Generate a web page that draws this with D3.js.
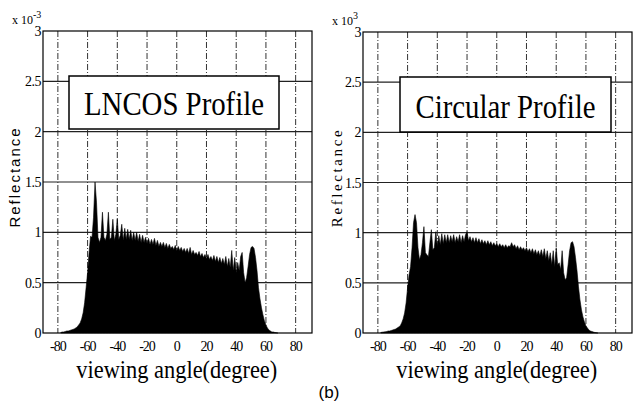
<!DOCTYPE html>
<html>
<head>
<meta charset="utf-8">
<script src="https://cdn.jsdelivr.net/npm/d3@7"></script>
</head>
<body style="margin:0">
<script>
// sampled viewing angles (degree), one value per degree
const angles = d3.range(-78, 69);

// reflectance, x 10^-3
const lncos = [
  0.005, 0.01, 0.01, 0.015, 0.02, 0.02, 0.025, 0.03, 0.035, 0.04,
  0.05, 0.06, 0.08, 0.1, 0.14, 0.2, 0.3, 0.45, 0.6, 0.8,
  0.96, 0.95, 1.15, 1.5, 1.3, 0.95, 0.9, 0.95, 1.2, 0.95,
  0.92, 0.98, 1.2, 0.93, 0.95, 1.13, 0.92, 0.98, 1.13, 0.93,
  0.97, 1.08, 0.92, 1.04, 0.93, 1.03, 0.93, 1.02, 0.92, 1.0,
  0.92, 1.0, 0.91, 0.98, 0.9, 0.97, 0.9, 0.95, 0.89, 0.94,
  0.88, 0.93, 0.88, 0.94, 0.87, 0.92, 0.86, 0.9, 0.86, 0.9,
  0.85, 0.89, 0.84, 0.88, 0.84, 0.86, 0.83, 0.87, 0.82, 0.86,
  0.82, 0.85, 0.81, 0.84, 0.8, 0.84, 0.79, 0.85, 0.78, 0.82,
  0.78, 0.8, 0.77, 0.81, 0.76, 0.79, 0.75, 0.78, 0.74, 0.78,
  0.73, 0.76, 0.72, 0.77, 0.71, 0.76, 0.7, 0.75, 0.69, 0.74,
  0.68, 0.76, 0.66, 0.74, 0.65, 0.82, 0.62, 0.75, 0.6, 0.7,
  0.62, 0.76, 0.8, 0.6, 0.5, 0.55, 0.66, 0.78, 0.85, 0.86,
  0.84, 0.75, 0.62, 0.45, 0.34, 0.25, 0.18, 0.12, 0.08, 0.05,
  0.03, 0.02, 0.01, 0.01, 0.005, 0.003, 0
];

const circular = [
  0.005, 0.008, 0.01, 0.012, 0.015, 0.02, 0.02, 0.025, 0.03, 0.035,
  0.04, 0.05, 0.06, 0.07, 0.1, 0.14, 0.2, 0.3, 0.45, 0.58,
  0.66, 0.85, 1.1, 1.18, 1.1, 0.85, 0.73, 0.78, 0.9, 1.06,
  0.8, 0.78, 0.76, 0.9, 1.03, 0.83, 0.85, 1.01, 0.86, 0.97,
  0.88, 0.99, 0.89, 0.98, 0.9, 0.98, 0.9, 0.97, 0.91, 0.98,
  0.9, 0.96, 0.91, 0.98, 0.9, 0.97, 0.91, 0.98, 1.01, 0.92,
  0.96, 0.91, 0.95, 0.9, 0.95, 0.9, 0.94, 0.89, 0.93, 0.89,
  0.92, 0.88, 0.92, 0.88, 0.91, 0.87, 0.9, 0.87, 0.89, 0.86,
  0.89, 0.86, 0.88, 0.85, 0.88, 0.85, 0.87, 0.86, 0.9, 0.86,
  0.88, 0.84, 0.87, 0.83, 0.86, 0.83, 0.85, 0.82, 0.85, 0.81,
  0.84, 0.8, 0.84, 0.79, 0.83, 0.78, 0.82, 0.77, 0.83, 0.76,
  0.84, 0.74, 0.82, 0.72, 0.8, 0.68, 0.82, 0.66, 0.85, 0.68,
  0.7, 0.63, 0.82, 0.6, 0.53, 0.55, 0.68, 0.82, 0.9, 0.91,
  0.86, 0.75, 0.62, 0.46, 0.33, 0.23, 0.16, 0.11, 0.07, 0.05,
  0.03, 0.02, 0.015, 0.01, 0.005, 0.003, 0
];

const xTicks = [-80, -60, -40, -20, 0, 20, 40, 60, 80];
const yTicks = [0, 0.5, 1, 1.5, 2, 2.5, 3];
const yTickLabels = ["0", "0.5", "1", "1.5", "2", "2.5", "3"];
const titles = ["LNCOS Profile", "Circular Profile"];
const exponents = ["-3", "3"];

const W = 638, H = 407;
const SERIF = "Times New Roman";
const SANS = "Liberation Sans";

const svg = d3.select("body").append("svg")
  .attr("width", W)
  .attr("height", H);

// put a text with one font family on it
function label(parent, txt, font, size) {
  return parent.append("text")
    .datum(font)
    .style("font-family", d => `"${d}"`)
    .style("font-size", size + "px")
    .text(txt);
}

// panel frames in pixels
const panels = [
  { values: lncos, x0: 43, x1: 312, y0: 31, y1: 333, box: [69, 76, 210, 53], labelX: 15, ylabelFont: SANS, ylabelSpacing: 2 },
  { values: circular, x0: 363, x1: 632, y0: 32, y1: 333, box: [400, 77, 211, 55], labelX: 337, ylabelFont: SERIF, ylabelSpacing: 2.6 }
];

panels.forEach((p, k) => {
  const x = d3.scaleLinear().domain([-90, 91]).range([p.x0, p.x1]);
  const y = d3.scaleLinear().domain([0, 3]).range([p.y1, p.y0]);
  const g = svg.append("g");

  // grid
  g.selectAll(".vgrid")
    .data(xTicks)
    .enter()
    .append("line")
    .attr("x1", d => x(d)).attr("x2", d => x(d))
    .attr("y1", p.y0).attr("y2", p.y1)
    .style("stroke", "#333")
    .style("stroke-width", 1)
    .style("stroke-dasharray", "6,2,1,2");

  g.selectAll(".hgrid")
    .data(yTicks.slice(1, -1))
    .enter()
    .append("line")
    .attr("x1", p.x0).attr("x2", p.x1)
    .attr("y1", d => y(d)).attr("y2", d => y(d))
    .style("stroke", "#222")
    .style("stroke-width", 1.2);

  // filled reflectance
  const area = d3.area()
    .x((d, i) => x(angles[i]))
    .y0(y(0))
    .y1(d => y(d));

  g.append("path")
    .datum(p.values)
    .attr("d", area)
    .style("fill", "#000")
    .style("stroke", "#000")
    .style("stroke-width", 0.6);

  // frame
  g.append("rect")
    .attr("x", p.x0).attr("y", p.y0)
    .attr("width", p.x1 - p.x0).attr("height", p.y1 - p.y0)
    .style("fill", "none")
    .style("stroke", "#000")
    .style("stroke-width", 1.2);

  // x tick labels
  xTicks.forEach(t => {
    label(g, t, SERIF, 14)
      .attr("x", x(t))
      .attr("y", p.y1 + 18)
      .attr("text-anchor", "middle")
      .style("letter-spacing", "-1px");
  });

  // y tick labels
  yTicks.forEach((t, i) => {
    label(g, yTickLabels[i], SERIF, 14)
      .attr("x", p.x0 - 2)
      .attr("y", y(t) + 5)
      .attr("text-anchor", "end")
      .style("letter-spacing", "-0.5px");
  });

  // exponent
  const ex = label(g, null, SERIF, 12)
    .attr("x", p.x0 - 31)
    .attr("y", p.y0 - 7);
  ex.append("tspan").text("x 10");
  ex.append("tspan").attr("dy", -6).style("font-size", "10px").text(exponents[k]);

  // y label
  label(g, "Reflectance", p.ylabelFont, 15)
    .attr("transform", `translate(${p.labelX + 5},${(p.y0 + p.y1) / 2 - 5}) rotate(-90)`)
    .attr("text-anchor", "middle")
    .style("letter-spacing", p.ylabelSpacing + "px");

  // x label
  label(g, "viewing angle(degree)", SERIF, 26)
    .attr("x", x(0))
    .attr("y", 378)
    .attr("text-anchor", "middle")
    .attr("textLength", 201)
    .attr("lengthAdjust", "spacingAndGlyphs");

  // title box
  const [bx, by, bw, bh] = p.box;
  g.append("rect")
    .attr("x", bx).attr("y", by)
    .attr("width", bw).attr("height", bh)
    .style("fill", "#fff")
    .style("stroke", "#000")
    .style("stroke-width", 1.5);

  label(g, titles[k], SERIF, 33)
    .attr("x", bx + bw / 2)
    .attr("y", by + bh - 14)
    .attr("text-anchor", "middle")
    .attr("textLength", 180)
    .attr("lengthAdjust", "spacingAndGlyphs");
});

label(svg, "(b)", SANS, 17)
  .attr("x", 329)
  .attr("y", 398)
  .attr("text-anchor", "middle");
</script>
</body>
</html>
